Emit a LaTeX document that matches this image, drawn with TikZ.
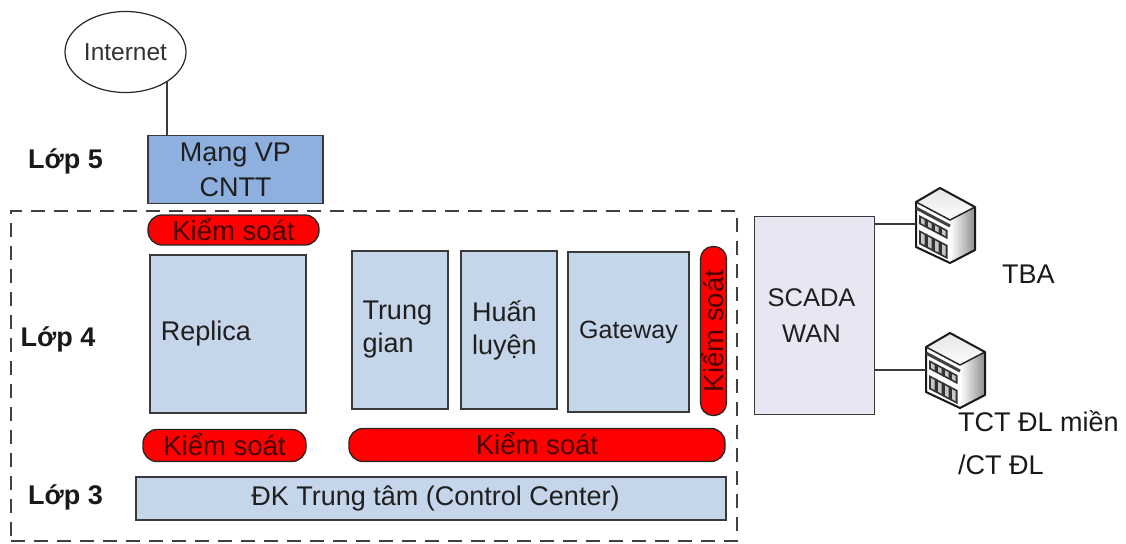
\documentclass[tikz,border=0pt]{standalone}
\usepackage{fontspec}
\setmainfont{Liberation Sans}
\usetikzlibrary{shapes.geometric}
\definecolor{lb}{HTML}{C5D5EA}
\definecolor{mb}{HTML}{8EB0DE}
\definecolor{wanb}{HTML}{E8E6F2}
\definecolor{ln}{HTML}{3A3A3A}
\tikzset{
 x=1pt,y=-1pt,
 box/.style={draw=ln,line width=1.3pt,fill=lb,inner sep=0pt,align=center,font=\fontsize{27}{33}\selectfont,text=black!88},
 pill/.style={draw=black!85,line width=1.3pt,fill=red,rounded corners=14pt,inner sep=0pt,font=\fontsize{27.5}{30}\selectfont,text=black!72!red},
 lay/.style={font=\bfseries\fontsize{27}{30}\selectfont,text=black!90},
 conn/.style={draw=ln,line width=1.3pt},
 txt/.style={font=\fontsize{27}{30}\selectfont,text=black!90,inner sep=0pt},
 pics/bldg/.style={code={
  \shade[left color=white,right color=black!45] (34,32)--(59,19)--(59,62)--(34,75)--cycle;
  \shade[top color=black!10,bottom color=black!1] (0,14)--(24,0)--(59,19)--(34,32)--cycle;
  \fill[white] (0,14)--(34,32)--(34,75)--(0,59)--cycle;
  \foreach \i in {0,1,2,3}{
    \fill[black!80] ({3+7*\i},{27+3.7*\i})--({10.5+7*\i},{31+3.7*\i})--({10.5+7*\i},{40+3.7*\i})--({3+7*\i},{36+3.7*\i})--cycle;
    \fill[black!80] ({3+7*\i},{42+3.7*\i})--({10.5+7*\i},{46+3.7*\i})--({10.5+7*\i},{60+3.7*\i})--({3+7*\i},{56+3.7*\i})--cycle;
    \fill[black!22] ({5+7*\i},{30+3.7*\i})--({8.5+7*\i},{32+3.7*\i})--({8.5+7*\i},{37+3.7*\i})--({5+7*\i},{35+3.7*\i})--cycle;
    \fill[black!22] ({5+7*\i},{45+3.7*\i})--({8.5+7*\i},{47+3.7*\i})--({8.5+7*\i},{57+3.7*\i})--({5+7*\i},{55+3.7*\i})--cycle;
  }
  \draw[line width=2pt,black!90,line join=round] (0,14)--(24,0)--(59,19)--(59,62)--(34,75)--(0,59)--cycle;
  \draw[line width=1.5pt,black!85] (0,14)--(34,32)--(59,19);
  \draw[line width=3pt,black!75] (0,20)--(34,38);
 }}
}
\begin{document}
\begin{tikzpicture}
\useasboundingbox (0,0) rectangle (1126,543);
% frame
\node[draw=black!75,line width=1.4pt,dash pattern=on 14pt off 9pt,minimum width=726pt,minimum height=330pt,inner sep=0pt] (frame) at (374,376) {};
% internet
\node[draw=black!85,line width=1.2pt,ellipse,minimum width=121pt,minimum height=81pt,inner sep=0pt,font=\fontsize{24.5}{28}\selectfont,text=black!80] (inet) at (125.5,52) {Internet};
\node[box,fill=mb,minimum width=175pt,minimum height=68pt,font=\fontsize{27}{35}\selectfont] (vp) at (235.5,169.5) {Mạng VP\\CNTT};
\draw[conn] (inet.-36.5) -- (inet.-36.5 |- vp.north);
% pills
\node[pill,minimum width=171pt,minimum height=30pt] (k1) at (233.5,230) {\raisebox{2pt}{Kiểm soát}};
\node[pill,minimum width=163pt,minimum height=32pt] (k2) at (224.5,445.5) {\raisebox{2pt}{Kiểm soát}};
\node[pill,minimum width=376pt,minimum height=33pt] (k3) at (537,445) {\raisebox{4pt}{Kiểm soát}};
\node[pill,rotate=90,minimum width=169pt,minimum height=26pt,rounded corners=12.5pt] (k4) at (713.5,331) {\raisebox{2pt}{Kiểm soát}};
% boxes
\node[box,minimum width=156pt,minimum height=158pt] (rep) at (228,334) {\hspace*{-44pt}\raisebox{2pt}{Replica}};
\node[box,minimum width=96pt,minimum height=158pt,align=left] (tg) at (400,330) {\raisebox{7pt}{\hspace*{-4pt}\parbox{71pt}{Trung\\gian}}};
\node[box,minimum width=96pt,minimum height=158pt,align=left] (hl) at (509,330) {\raisebox{7pt}{\hspace*{-10pt}\parbox{64pt}{Huấn\\luyện}}};
\node[box,minimum width=121pt,minimum height=160pt,font=\fontsize{25}{30}\selectfont] (gw) at (628.5,332) {\raisebox{4pt}{Gateway}};
\node[box,minimum width=590pt,minimum height=43pt] (cc) at (431,498.5) {\hspace*{9pt}ĐK Trung tâm (Control Center)};
% wan
\node[box,fill=wanb,minimum width=120pt,minimum height=198pt,font=\fontsize{25.5}{36}\selectfont,align=center] (wan) at (814.5,315.5) {\hspace*{-6pt}SCADA\\\hspace*{-6pt}WAN};
% layers
\node[lay] (l5) at (65.5,161) {Lớp 5};
\node[lay] (l4) at (58,339) {Lớp 4};
\node[lay] (l3) at (65.5,497) {Lớp 3};
% buildings
\pic at (916,188) {bldg};
\pic at (926,333) {bldg};
\coordinate (b1) at (916,224);
\coordinate (b2) at (926,370);
\draw[conn] (wan.east |- b1) -- (b1);
\draw[conn] (wan.east |- b2) -- (b2);
% texts
\node[txt,anchor=west] (tba) at (1002,274) {TBA};
\node[txt,anchor=west] (tct) at (958,421) {TCT ĐL miền};
\node[txt,anchor=west] (ct) at (958,465) {/CT ĐL};
\end{tikzpicture}
\end{document}
